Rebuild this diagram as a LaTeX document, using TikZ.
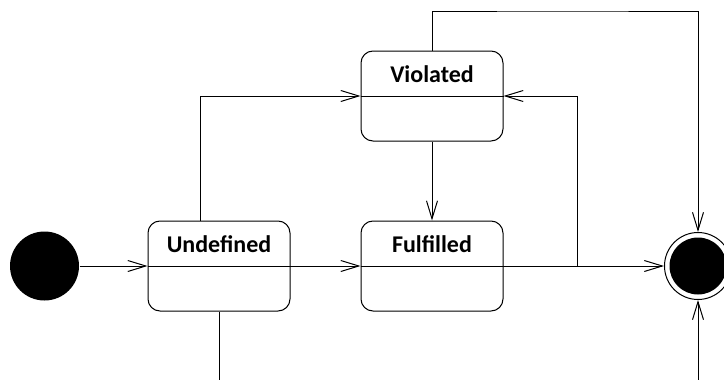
\documentclass[tikz,border=0pt]{standalone}
\usepackage{fontspec}
\setmainfont{Carlito}
\usetikzlibrary{arrows.meta}

\begin{document}
\begin{tikzpicture}[x=1pt,y=-1pt,line width=1pt,
  state/.style={draw,rounded corners=12pt,minimum width=142pt,minimum height=90pt,inner sep=0pt},
  statename/.style={font=\fontsize{24}{28}\selectfont\bfseries},
  flow/.style={-{Straight Barb[length=18pt,width=11pt,line width=1pt]}}]
\useasboundingbox (0,0) rectangle (724,380);
\clip (0,0) rectangle (724,380);
% states
\node[circle,fill=black,inner sep=0pt,minimum size=69pt] (init) at (44.5,266) {};
\node[state] (undef) at (219,266) {};
\node[state] (fulf) at (432,266) {};
\node[state] (viol) at (432,96) {};
\node[circle,draw,inner sep=0pt,minimum size=67pt] (final) at (698,266) {};
\node[circle,fill=black,inner sep=0pt,minimum size=57pt] (finalin) at (final) {};
\foreach \s/\t in {undef/Undefined,fulf/Fulfilled,viol/Violated}
  {\draw (\s.west) -- (\s.east);
   \node[statename] (\s-name) at ([yshift=22pt]\s.center) {\t};}
\coordinate (junc) at (577,266);
% transitions
\draw[flow] (init) -- (undef.west);
\draw[flow] (undef.east) -- (fulf.west);
\draw[flow] ([xshift=-19pt]undef.north) |- (viol.west);
\draw[flow] (viol.south) -- (fulf.north);
\draw[flow] (fulf.east) -- (final.west);
\draw[flow] (junc) |- (viol.east);
\draw[flow] (viol.north) |- (560,11) -| (final.north);
\draw[flow] (undef.south) |- (560,395) -| (final.south);
\end{tikzpicture}
\end{document}
